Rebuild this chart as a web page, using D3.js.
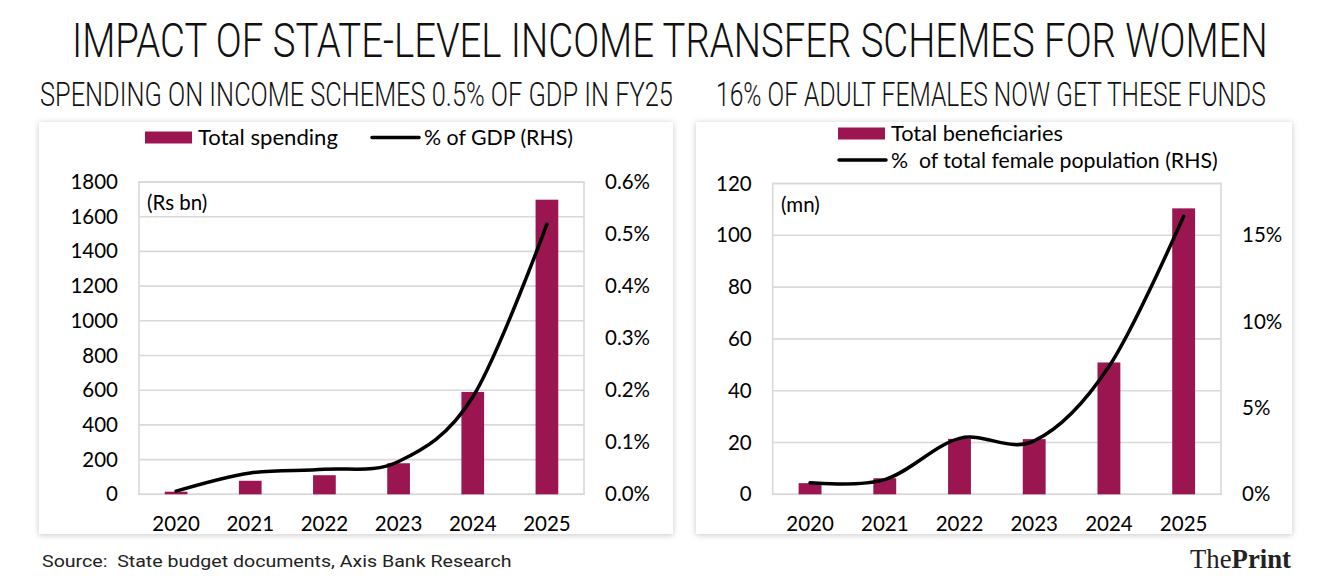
<!DOCTYPE html>
<html><head><meta charset="utf-8">
<script src="https://cdn.jsdelivr.net/npm/d3@7"></script>
<style>
html,body{margin:0;padding:0;background:#fff;}
svg{display:block;}
.tick text{font-family:Lato,sans-serif;font-size:20.5px;fill:#000;}
</style></head>
<body><svg id="c" width="1336" height="585"></svg>
<script>
// ---- data ----
const years = ["2020","2021","2022","2023","2024","2025"];
const spending = [15, 78, 110, 179, 590, 1698];          // Rs bn
const gdpShare = [0.006, 0.041, 0.048, 0.063, 0.187, 0.519]; // % of GDP
const beneficiaries = [4.3, 6.2, 21.4, 21.3, 50.9, 110.4];  // mn
const femaleShare = [0.67, 0.85, 3.24, 3.09, 7.4, 16.1];     // % of female pop
const spendTicks = [0,200,400,600,800,1000,1200,1400,1600,1800];
const gdpTicks = [0,0.1,0.2,0.3,0.4,0.5,0.6];
const benTicks = [0,20,40,60,80,100,120];
const femaleTicks = [0,5,10,15];

const title = "IMPACT OF STATE-LEVEL INCOME TRANSFER SCHEMES FOR WOMEN";
const subLeft = "SPENDING ON INCOME SCHEMES 0.5% OF GDP IN FY25";
const subRight = "16% OF ADULT FEMALES NOW GET THESE FUNDS";
const source = "Source:  State budget documents, Axis Bank Research";

const BAR = "#9b1650", GRID = "#d9d9d9";
const svg = d3.select("#c");

const defs = svg.append("defs");
const f = defs.append("filter").attr("id","sh").attr("x","-5%").attr("y","-5%").attr("width","110%").attr("height","110%");
f.append("feDropShadow").attr("dx",0).attr("dy",1).attr("stdDeviation",3)
  .attr("flood-color","#000").attr("flood-opacity",0.22);

// place text at (x,y) and squeeze it horizontally to a target width
function fitText(x,y,str,width,font,size,weight,fill){
  const g = svg.append("g");
  const t = g.append("text").text(str)
    .style("font-family",font).style("font-size",size+"px").style("font-weight",weight||400)
    .style("white-space","pre").attr("fill",fill||"#111");
  const w = t.node().getComputedTextLength();
  g.attr("transform",`translate(${x},${y}) scale(${width/w},1)`);
  return t;
}

// titles
fitText(72,57,title,1196,"Roboto",49,300,"#111");
fitText(40,106,subLeft,633,"Roboto",34,300,"#111");
fitText(716,106,subRight,550,"Roboto",34,300,"#111");

function panel(o){
  const g = svg.append("g");
  g.append("rect").attr("x",o.card[0]).attr("y",o.card[1]).attr("width",o.card[2]).attr("height",o.card[3])
    .attr("fill","#fff").attr("filter","url(#sh)");
  const x = d3.scaleBand().domain(years).range([o.px0,o.px1]).padding(0);
  const yL = d3.scaleLinear().domain([0,o.lmax]).range([o.py1,o.py0]);
  const yR = d3.scaleLinear().domain([0,o.rmax]).range([o.py1,o.py0]);
  // grid
  g.append("g").selectAll("line").data(o.lticks).join("line")
    .attr("x1",o.px0).attr("x2",o.px1).attr("y1",d=>yL(d)).attr("y2",d=>yL(d))
    .attr("stroke",GRID).attr("stroke-width",1.6);
  g.append("rect").attr("x",o.px0).attr("y",o.py0).attr("width",o.px1-o.px0).attr("height",o.py1-o.py0)
    .attr("fill","none").attr("stroke",GRID).attr("stroke-width",1.6);
  // bars
  const bw = x.step()*0.306;
  g.append("g").selectAll("rect").data(o.bars).join("rect")
    .attr("x",(d,i)=>x(years[i])+x.bandwidth()/2-bw/2).attr("width",bw)
    .attr("y",d=>yL(d)).attr("height",d=>yL(0)-yL(d)).attr("fill",BAR);
  // line
  const line = d3.line().x((d,i)=>x(years[i])+x.bandwidth()/2).y(d=>yR(d)).curve(d3.curveCardinal.tension(0));
  g.append("path").datum(o.line).attr("d",line).attr("fill","none").attr("stroke","#000").attr("stroke-width",3.5).attr("stroke-linecap","round");
  // axes
  const aL = g.append("g").attr("transform",`translate(${o.px0-21},0)`)
    .call(d3.axisLeft(yL).tickValues(o.lticks).tickSize(0).tickPadding(0).tickFormat(d3.format("d")));
  aL.select(".domain").remove();
  const aR = g.append("g").attr("transform",`translate(${o.px1+21},0)`)
    .call(d3.axisRight(yR).tickValues(o.rticks).tickSize(0).tickPadding(0).tickFormat(o.rfmt));
  aR.select(".domain").remove();
  const aB = g.append("g").attr("transform",`translate(0,${o.py1})`)
    .call(d3.axisBottom(x).tickSize(0).tickPadding(22));
  aB.select(".domain").remove();
  aB.selectAll(".tick text").attr("dy","0.71em");
  // unit
  g.append("text").attr("x",o.unitX).attr("y",o.py0+28).text(o.unit)
    .style("font-family","Lato").style("font-size","20.5px");
  return {g,x};
}

panel({card:[39,122,634,412], px0:139, px1:584, py0:182, py1:494.3,
  lmax:1800, rmax:0.6, lticks:spendTicks, rticks:gdpTicks, bars:spending, line:gdpShare,
  rfmt:d=>d.toFixed(1)+"%", unit:"(Rs bn)", unitX:147});
panel({card:[696,122,596,412], px0:772.7, px1:1221, py0:183.5, py1:494.3,
  lmax:120, rmax:18, lticks:benTicks, rticks:femaleTicks, bars:beneficiaries, line:femaleShare,
  rfmt:d=>d+"%", unit:"(mn)", unitX:781});

// legends
function legBar(x,y,label,w){
  svg.append("rect").attr("x",x).attr("y",y-6).attr("width",47).attr("height",12).attr("fill",BAR);
  fitText(x+53,y+7.5,label,w,"Lato",21.5,400,"#000");
}
function legLine(x,y,label,w){
  svg.append("line").attr("x1",x).attr("x2",x+47).attr("y1",y).attr("y2",y).attr("stroke","#000").attr("stroke-width",3.5).attr("stroke-linecap","round");
  fitText(x+52,y+7.5,label,w,"Lato",21.5,400,"#000");
}
legBar(145,137.5,"Total spending",140);
legLine(372,137.5,"% of GDP (RHS)",149);
legBar(838,133.5,"Total beneficiaries",172);
legLine(839,160,"%  of total female population (RHS)",327);

// footer
fitText(42,567,source,470,"Roboto",17,400,"#222");
const tpG = svg.append("g");
const tp = tpG.append("text").style("font-family","Liberation Serif").style("font-size","27px").attr("fill","#222");
tp.append("tspan").text("The");
tp.append("tspan").text("Print").style("font-weight","bold");
const tpw = tp.node().getComputedTextLength();
tpG.attr("transform",`translate(1190,568) scale(${101/tpw},1)`);
</script></body></html>
